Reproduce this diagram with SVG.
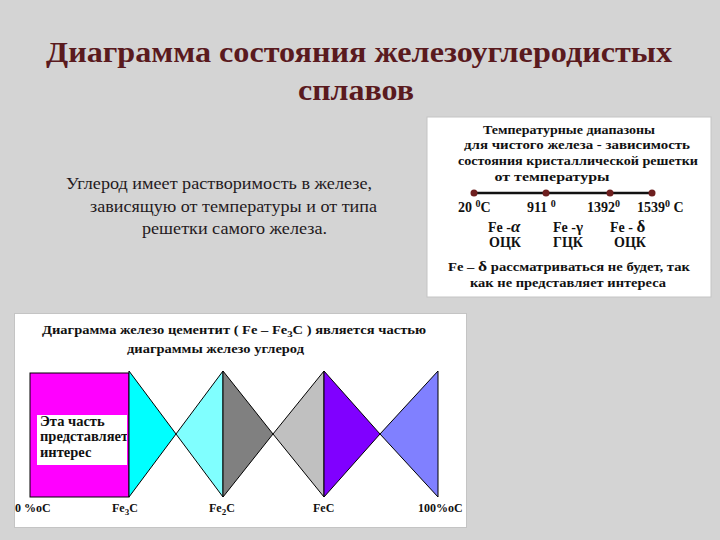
<svg xmlns="http://www.w3.org/2000/svg" width="720" height="540" viewBox="0 0 720 540">
<style>
.title{font-family:"Liberation Serif","Times New Roman",serif;font-weight:bold;font-size:30px;fill:#5a1a1e}
.para{font-family:"Liberation Serif","Times New Roman",serif;font-size:16px;fill:#241a1d}
.b{font-family:"Liberation Serif","Times New Roman",serif;font-weight:bold;font-size:12.5px;fill:#111}
.r{font-family:"Liberation Serif","Times New Roman",serif;font-weight:bold;font-size:14px;fill:#111}
.s{font-family:"Liberation Serif","Times New Roman",serif;font-weight:bold;font-size:12px;fill:#111}
.m{font-family:"Liberation Serif","Times New Roman",serif;font-weight:bold;font-size:14.5px;fill:#111}
.tri{stroke:#000;stroke-width:1}
.sub{font-size:9px}
</style>
<defs>
<clipPath id="boxclip"><rect x="37" y="415" width="90" height="50"/></clipPath>
</defs>
<rect x="0" y="0" width="720" height="540" fill="#d4d4d4"/>

<g id="title">
<text class="title" x="359" y="62" text-anchor="middle" textLength="626" lengthAdjust="spacingAndGlyphs">Диаграмма состояния железоуглеродистых</text>
<text class="title" x="356" y="100" text-anchor="middle" textLength="116" lengthAdjust="spacingAndGlyphs">сплавов</text>
</g>

<g id="paragraph">
<text class="para" x="66" y="189" textLength="306" lengthAdjust="spacingAndGlyphs">Углерод имеет растворимость в железе,</text>
<text class="para" x="90" y="212" textLength="287" lengthAdjust="spacingAndGlyphs">зависящую от температуры и от типа</text>
<text class="para" x="142" y="234" textLength="185" lengthAdjust="spacingAndGlyphs">решетки самого железа.</text>
</g>

<g id="temperature-panel">
<rect x="427" y="117" width="284" height="180" fill="#ffffff" stroke="#c4c4c4" stroke-width="1"/>
<text class="b" x="569" y="134" text-anchor="middle" textLength="172" lengthAdjust="spacingAndGlyphs">Температурные диапазоны</text>
<text class="b" x="577" y="149" text-anchor="middle" textLength="226" lengthAdjust="spacingAndGlyphs">для чистого железа - зависимость</text>
<text class="b" x="578" y="165" text-anchor="middle" textLength="240" lengthAdjust="spacingAndGlyphs">состояния кристаллической решетки</text>
<text class="b" x="552" y="181" text-anchor="middle" textLength="115" lengthAdjust="spacingAndGlyphs">от температуры</text>
<line x1="474" y1="193" x2="652" y2="193" stroke="#111" stroke-width="2.5"/>
<g fill="#6e1f1f">
<circle cx="474" cy="193" r="3.5"/>
<circle cx="546" cy="193" r="3.5"/>
<circle cx="610" cy="193" r="3.5"/>
<circle cx="652" cy="193" r="3.5"/>
</g>
<text class="r" x="458" y="212">20 <tspan dy="-5" font-size="10">0</tspan><tspan dy="5">C</tspan></text>
<text class="r" x="527" y="212">911 <tspan dy="-5" font-size="10">0</tspan></text>
<text class="r" x="587" y="212">1392<tspan dy="-5" font-size="10">0</tspan></text>
<text class="r" x="637" y="212">1539<tspan dy="-5" font-size="10">0</tspan><tspan dy="5"> C</tspan></text>
<text class="r" x="488" y="232">Fe -<tspan font-size="17" font-style="italic">α</tspan></text>
<text class="r" x="553" y="232">Fe -<tspan font-size="15">γ</tspan></text>
<text class="r" x="610" y="232">Fe - <tspan font-size="17">δ</tspan></text>
<text class="r" x="489" y="247">ОЦК</text>
<text class="r" x="553" y="247">ГЦК</text>
<text class="r" x="614" y="247">ОЦК</text>
<text class="b" x="448" y="271" textLength="242" lengthAdjust="spacingAndGlyphs">Fe – <tspan font-size="15">δ</tspan> рассматриваться не будет, так</text>
<text class="b" x="470" y="287" textLength="196" lengthAdjust="spacingAndGlyphs">как не представляет интереса</text>
</g>

<g id="bottom-panel">
<rect x="14.5" y="313.5" width="452" height="214" fill="#ffffff" stroke="#c4c4c4" stroke-width="1"/>
<text class="s" x="42" y="334" textLength="384" lengthAdjust="spacingAndGlyphs">Диаграмма железо цементит ( Fe – Fe<tspan class="sub" dy="3">3</tspan><tspan dy="-3">C ) является частью</tspan></text>
<text class="s" x="127" y="353" textLength="177" lengthAdjust="spacingAndGlyphs">диаграммы железо углерод</text>
</g>

<g id="region-magenta">
<rect x="30" y="373" width="99" height="124" fill="#ff00ff" stroke="#000" stroke-width="1"/>
<rect x="37" y="415" width="90" height="50" fill="#ffffff"/>
<g clip-path="url(#boxclip)">
<text class="m" x="40" y="426">Эта часть</text>
<text class="m" x="40" y="441">представляет</text>
<text class="m" x="40" y="457">интерес</text>
</g>
</g>

<g id="triangles">
<polygon class="tri" points="129,371 176,434 129,497" fill="#00ffff"/>
<polygon class="tri" points="176,434 223,371 223,497" fill="#80ffff"/>
<polygon class="tri" points="223,371 273,434 223,497" fill="#808080"/>
<polygon class="tri" points="273,434 324,371 324,497" fill="#c0c0c0"/>
<polygon class="tri" points="324,371 380,434 324,497" fill="#8000ff"/>
<polygon class="tri" points="380,434 438,371 438,497" fill="#8080ff"/>
</g>

<g id="axis-labels">
<text class="s" x="15" y="512">0 %oC</text>
<text class="s" x="112" y="512">Fe<tspan class="sub" dy="3">3</tspan><tspan dy="-3">C</tspan></text>
<text class="s" x="209" y="512">Fe<tspan class="sub" dy="3">2</tspan><tspan dy="-3">C</tspan></text>
<text class="s" x="313" y="512">FeC</text>
<text class="s" x="418" y="512">100%oC</text>
</g>
</svg>
